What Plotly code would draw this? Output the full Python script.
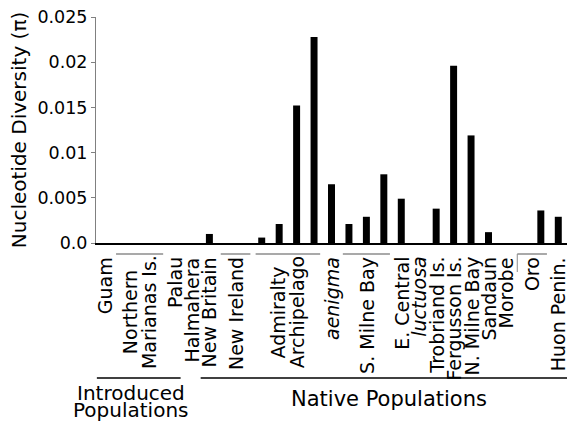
import plotly.graph_objects as go

# ---- data ----
slot_values = [0, 0, 0, 0, 0, 0, 0.0010, 0, 0, 0.0006, 0.0021, 0.0152, 0.0228,
               0.0065, 0.0021, 0.0029, 0.0076, 0.0049, 0, 0.0038, 0.0196, 0.0119,
               0.0012, 0, 0, 0.0036, 0.0029]
pop_labels = ["Guam", "Northern|Marianas Is.", "Palau", "Halmahera", "New Britain",
              "New Ireland", "Admiralty|Archipelago", "<i>aenigma</i>", "S. Milne Bay",
              "E. Central", "<i>luctuosa</i>", "Trobriand Is.", "Fergusson Is.",
              "N. Milne Bay", "Sandaun", "Morobe", "Oro", "Huon Penin."]
label_slots = [0, 2, 4, 5, 6, 7.5, 10.5, 13, 15, 17, 18, 19, 20, 21, 22, 23, 24.5, 26]
group_brackets = [(1, 3), (7, 8), (9, 12), (14, 16), (24, 25)]
region_names = ["Introduced", "Populations", "Native Populations"]
y_ticks = [0, 0.005, 0.01, 0.015, 0.02, 0.025]
y_ticktext = ["0.0", "0.005", "0.01", "0.015", "0.02", "0.025"]

FONT = "DejaVu Sans"
LABEL_SIZE = 19
x_slots = list(range(len(slot_values)))

fig = go.Figure()
fig.add_trace(go.Bar(x=x_slots, y=slot_values, width=0.4,
                     marker=dict(color="black", line=dict(width=0)),
                     showlegend=False, hoverinfo="skip"))

# plot spans y 17 -> 243 px ; paper height 226
H = 226.0
def py(pix):
    return (243 - pix) / H

annotations = []
for lab, s in zip(pop_labels, label_slots):
    lines = lab.split("|")
    if len(lines) == 1:
        annotations.append(dict(x=s, y=py(255), xref="x", yref="paper", text=lab,
                                textangle=-90, xanchor="center", yanchor="top",
                                showarrow=False,
                                font=dict(family=FONT, size=LABEL_SIZE, color="black")))
    else:
        n = len(lines)
        for i, ln in enumerate(lines):
            off = (i - (n - 1) / 2) * 1.08
            annotations.append(dict(x=s + off, y=py(312), xref="x", yref="paper", text=ln,
                                    textangle=-90, xanchor="center", yanchor="middle",
                                    showarrow=False,
                                    font=dict(family=FONT, size=LABEL_SIZE, color="black")))

shapes = []
for a, b in group_brackets:
    shapes.append(dict(type="line", xref="x", yref="paper", x0=a - 0.35, x1=b + 0.35,
                       y0=py(254), y1=py(254), line=dict(color="#8c8c8c", width=1.5)))
# small vertical mark at left of Oro bracket
shapes.append(dict(type="line", xref="x", yref="paper", x0=23.65, x1=23.65,
                   y0=py(254), y1=py(272), line=dict(color="#8c8c8c", width=1)))

spans = [(-0.45, 4.35), (5.5, 26.6)]
for (a, b) in spans:
    shapes.append(dict(type="line", xref="x", yref="paper", x0=a, x1=b,
                       y0=py(378), y1=py(378), line=dict(color="black", width=1.5)))

annotations.append(dict(x=1.5, y=py(379), xref="x", yref="paper", text=region_names[0],
                        xanchor="center", yanchor="top", showarrow=False,
                        font=dict(family=FONT, size=20, color="black")))
annotations.append(dict(x=1.5, y=py(396), xref="x", yref="paper", text=region_names[1],
                        xanchor="center", yanchor="top", showarrow=False,
                        font=dict(family=FONT, size=20, color="black")))
annotations.append(dict(x=16.3, y=py(385), xref="x", yref="paper", text=region_names[2],
                        xanchor="center", yanchor="top", showarrow=False,
                        font=dict(family=FONT, size=21, color="black")))

fig.update_layout(
    width=567, height=421,
    margin=dict(l=96, r=0, t=17, b=178),
    paper_bgcolor="white", plot_bgcolor="white",
    font=dict(family=FONT, color="black"),
    xaxis=dict(range=[-0.5, 26.5], showticklabels=False, ticks="", showgrid=False,
               zeroline=False, showline=True, linecolor="black", linewidth=2),
    yaxis=dict(range=[0, 0.025], tickvals=y_ticks, ticktext=y_ticktext,
               ticks="outside", ticklen=4, tickcolor="#808080", tickwidth=1,
               showline=True, linecolor="#808080", linewidth=1,
               showgrid=False, zeroline=False,
               tickfont=dict(family=FONT, size=17.5, color="black"),
               title=dict(text="Nucleotide Diversity (π)", standoff=5,
                          font=dict(family=FONT, size=20, color="black"))),
    annotations=annotations, shapes=shapes,
)

fig.write_html("out.html", config={"displayModeBar": False},
               post_script="document.body.style.margin='0';document.body.style.overflow='hidden';")
